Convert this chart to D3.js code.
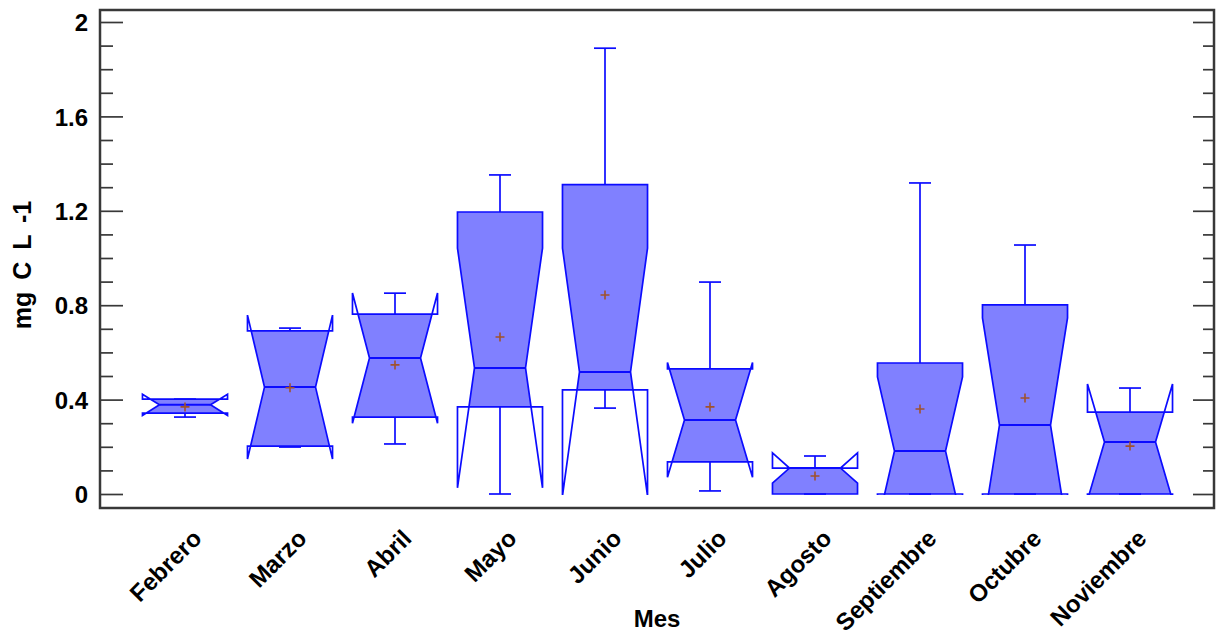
<!DOCTYPE html>
<html>
<head>
<meta charset="utf-8">
<script src="https://cdn.jsdelivr.net/npm/d3@7"></script>
<style>
  html, body { margin: 0; padding: 0; background: #ffffff; }
  svg { display: block; font-family: "Liberation Sans", Arial, sans-serif; }
</style>
</head>
<body>
<svg id="chart" width="1217" height="639"></svg>
<script>
// Monthly notched box plots of dissolved carbon (mg C L-1)
const months = ["Febrero", "Marzo", "Abril", "Mayo", "Junio", "Julio", "Agosto", "Septiembre", "Octubre", "Noviembre"];
const minVals    = [0.326, 0.199, 0.212, 0.000, 0.364, 0.013, 0.000, 0.000, 0.000, 0.000];
const q1Vals     = [0.343, 0.203, 0.326, 0.369, 0.441, 0.136, 0.000, 0.000, 0.000, 0.000];
const medianVals = [0.378, 0.453, 0.576, 0.534, 0.517, 0.314, 0.110, 0.182, 0.292, 0.220];
const q3Vals     = [0.402, 0.691, 0.762, 1.195, 1.311, 0.530, 0.110, 0.555, 0.801, 0.347];
const maxVals    = [0.402, 0.703, 0.851, 1.352, 1.889, 0.898, 0.161, 1.318, 1.055, 0.449];
const meanVals   = [0.369, 0.450, 0.547, 0.665, 0.843, 0.369, 0.076, 0.360, 0.407, 0.203];
const notchHalf  = [0.045, 0.305, 0.276, 0.508, 0.525, 0.243, 0.064, 0.314, 0.454, 0.246];

const yMajorTicks = [0, 0.4, 0.8, 1.2, 1.6, 2];
const yMinorTicks = [0.1, 0.2, 0.3, 0.5, 0.6, 0.7, 0.9, 1.0, 1.1, 1.3, 1.4, 1.5, 1.7, 1.8, 1.9];
const yTitle = "mg C L -1";
const xTitle = "Mes";

const svg = d3.select("#chart");
const frame = { left: 100, right: 1214, top: 10, bottom: 508 };

const x = d3.scaleBand().domain(months).range([132.5, 1182.5]).paddingInner(0).paddingOuter(0);
const y = d3.scaleLinear().domain([0, 2]).range([494, 22]);

const boxFill = "#8080ff";
const boxStroke = "#0c0cff";
const meanColor = "#a0522d";
const axisColor = "#383838";
const lineW = 1.7;

const rows = months.map((m, i) => ({
  month: m, min: minVals[i], q1: q1Vals[i], med: medianVals[i], q3: q3Vals[i],
  max: maxVals[i], mean: meanVals[i], notch: notchHalf[i]
}));

// clip marks to the plotting range (value >= 0)
svg.append("defs").append("clipPath").attr("id", "plotClip")
  .append("rect")
  .attr("x", frame.left).attr("y", frame.top)
  .attr("width", frame.right - frame.left)
  .attr("height", y(0) + 1 - frame.top);

const marks = svg.append("g").attr("clip-path", "url(#plotClip)");
const halfW = x.bandwidth() * 0.405;
const waist = 0.6;   // relative width of the box at the median
const capHalf = 11;

rows.forEach(d => {
  const cx = x(d.month) + x.bandwidth() / 2;
  const L = cx - halfW, R = cx + halfW;
  const Li = cx - halfW * waist, Ri = cx + halfW * waist;
  const nt = d.med + d.notch, nb = d.med - d.notch;
  const g = marks.append("g");

  // filled body: notched outline kept inside the Q1..Q3 band
  const pts = [];
  if (nt >= d.q3) {
    const t = nt === d.med ? 0 : (d.q3 - d.med) / (nt - d.med);
    pts.push([Li + (L - Li) * t, d.q3]);
  } else {
    pts.push([L, d.q3], [L, nt]);
  }
  pts.push([Li, d.med]);
  if (nb <= d.q1) {
    const t = nb === d.med ? 0 : (d.med - d.q1) / (d.med - nb);
    pts.push([Li + (L - Li) * t, d.q1]);
  } else {
    pts.push([L, nb], [L, d.q1]);
  }
  const rightSide = pts.slice().reverse().map(p => [2 * cx - p[0], p[1]]);
  const fillPts = pts.concat(rightSide).map(p => [p[0], y(p[1])]);
  g.append("path")
    .attr("d", d3.line()(fillPts) + "Z")
    .attr("fill", boxFill)
    .attr("stroke", "none");

  // whiskers
  [[d.q3, d.max], [d.q1, d.min]].forEach(([from, to]) => {
    g.append("line")
      .attr("x1", cx).attr("x2", cx).attr("y1", y(from)).attr("y2", y(to))
      .attr("stroke", boxStroke).attr("stroke-width", lineW);
    g.append("line")
      .attr("x1", cx - capHalf).attr("x2", cx + capHalf).attr("y1", y(to)).attr("y2", y(to))
      .attr("stroke", boxStroke).attr("stroke-width", lineW);
  });

  // full notched outline (notches may fold outside the box)
  const outline = [
    [L, d.q1], [L, nb], [Li, d.med], [L, nt], [L, d.q3],
    [R, d.q3], [R, nt], [Ri, d.med], [R, nb], [R, d.q1]
  ].map(p => [p[0], y(p[1])]);
  g.append("path")
    .attr("d", d3.line()(outline) + "Z")
    .attr("fill", "none")
    .attr("stroke", boxStroke)
    .attr("stroke-width", lineW)
    .attr("stroke-linejoin", "miter");

  // median
  g.append("line")
    .attr("x1", Li).attr("x2", Ri).attr("y1", y(d.med)).attr("y2", y(d.med))
    .attr("stroke", boxStroke).attr("stroke-width", 2);

  // mean marker
  const my = y(d.mean);
  g.append("path")
    .attr("d", `M${cx - 4.5},${my}H${cx + 4.5}M${cx},${my - 4.5}V${my + 4.5}`)
    .attr("stroke", meanColor).attr("stroke-width", 1.6).attr("fill", "none");
});

// axes
const tickFmt = d3.format("~g");
const leftMajor = svg.append("g").attr("transform", `translate(${frame.left + 1},0)`)
  .call(d3.axisLeft(y).tickValues(yMajorTicks).tickSize(-22).tickPadding(13).tickFormat(tickFmt));
const leftMinor = svg.append("g").attr("transform", `translate(${frame.left + 1},0)`)
  .call(d3.axisLeft(y).tickValues(yMinorTicks).tickSize(-12).tickFormat(""));
const rightMajor = svg.append("g").attr("transform", `translate(${frame.right - 1},0)`)
  .call(d3.axisRight(y).tickValues(yMajorTicks).tickSize(-20).tickFormat(""));
const rightMinor = svg.append("g").attr("transform", `translate(${frame.right - 1},0)`)
  .call(d3.axisRight(y).tickValues(yMinorTicks).tickSize(-10).tickFormat(""));

[leftMajor, leftMinor, rightMajor, rightMinor].forEach(a => {
  a.select(".domain").remove();
  a.selectAll(".tick line").attr("stroke", axisColor).attr("stroke-width", 1.7);
});
leftMajor.selectAll(".tick text")
  .attr("fill", "#000").attr("font-size", 24).attr("font-weight", "bold")
  .attr("font-family", "'Liberation Sans', Arial, sans-serif")
  .attr("dy", "0.36em");

const bottomAxis = svg.append("g").attr("transform", `translate(0,${frame.bottom})`)
  .call(d3.axisBottom(x).tickSize(0));
bottomAxis.select(".domain").remove();
bottomAxis.selectAll(".tick text")
  .attr("x", 0).attr("y", 0).attr("dy", 0)
  .attr("text-anchor", "end")
  .attr("transform", "translate(18,32) rotate(-45)")
  .attr("fill", "#000").attr("font-size", 24).attr("font-weight", "bold")
  .attr("font-family", "'Liberation Sans', Arial, sans-serif");

// frame
svg.append("rect")
  .attr("x", frame.left).attr("y", frame.top)
  .attr("width", frame.right - frame.left).attr("height", frame.bottom - frame.top)
  .attr("fill", "none").attr("stroke", axisColor).attr("stroke-width", 2.5);

// axis titles
svg.append("text")
  .attr("transform", "translate(31,265) rotate(-90)")
  .attr("text-anchor", "middle")
  .attr("font-size", 25).attr("font-weight", "bold")
  .attr("word-spacing", 5)
  .attr("fill", "#000")
  .text(yTitle);
svg.append("text")
  .attr("x", 657).attr("y", 627)
  .attr("text-anchor", "middle")
  .attr("font-size", 24).attr("font-weight", "bold")
  .attr("fill", "#000")
  .text(xTitle);
</script>
</body>
</html>
